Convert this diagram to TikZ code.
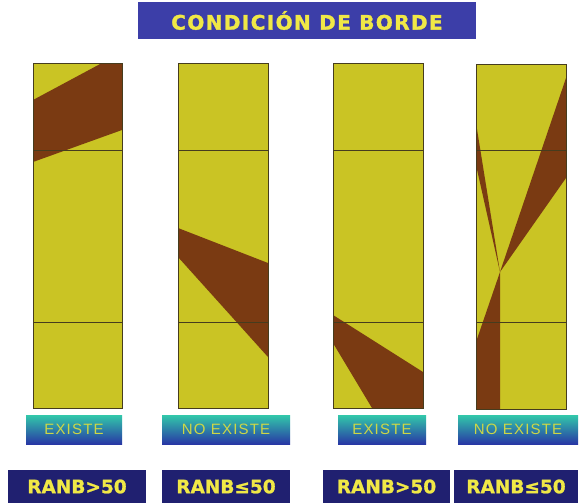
\documentclass[tikz,border=0pt]{standalone}
\usepackage{fontspec}
\setmainfont{DejaVu Sans}
\newfontfamily\titlefont[LetterSpace=7,FakeBold=1.5]{DejaVu Sans Bold}
\newfontfamily\bandfont[FakeBold=1.2]{DejaVu Sans Bold}
\newfontfamily\labfont[LetterSpace=8]{Liberation Sans}
\definecolor{olive}{RGB}{202,196,36}
\definecolor{rust}{RGB}{122,58,18}
\definecolor{edge}{RGB}{70,60,30}
\definecolor{titleblue}{RGB}{60,62,168}
\definecolor{navy}{RGB}{32,32,112}
\definecolor{ytext}{RGB}{240,232,70}
\definecolor{gtext}{RGB}{205,215,70}
\definecolor{teal}{RGB}{50,200,170}
\definecolor{gblue}{RGB}{40,55,165}
\begin{document}
\begin{tikzpicture}[x=1pt,y=-1pt,
  titlebox/.style={fill=titleblue, text=ytext, minimum width=338pt, minimum height=37pt, inner sep=0pt, font=\titlefont\fontsize{20}{20}\selectfont},
  statebox/.style={top color=teal, bottom color=gblue, draw=none, text=gtext, minimum height=29pt, inner sep=0pt, font=\labfont\fontsize{15}{15}\selectfont},
  condbox/.style={fill=navy, text=ytext, minimum height=33pt, inner sep=0pt, font=\bandfont\fontsize{18.5}{18.5}\selectfont},
  colfill/.style={fill=olive},
  band/.style={fill=rust},
  rule/.style={draw=edge, line width=0.9pt}]
\useasboundingbox (0,0) rectangle (582,504);
\fill[white] (0,0) rectangle (582,504);

\node[titlebox] (title) at (307,20.5) {CONDICIÓN DE BORDE};

% column 1
\fill[colfill] (33,63) rectangle (122,408);
\fill[band] (33,100) -- (102,63) -- (122,63) -- (122,130) -- (33,162) -- cycle;
% column 2
\fill[colfill] (178,63) rectangle (268,408);
\fill[band] (178,228) -- (268,263) -- (268,357) -- (178,257) -- cycle;
% column 3
\fill[colfill] (333,63) rectangle (423,408);
\fill[band] (333,315) -- (423,372) -- (423,408) -- (372,408) -- (333,343) -- cycle;
% column 4
\fill[colfill] (476,64) rectangle (566,409);
\fill[band] (476,123) -- (500,272) -- (476,165) -- cycle;
\fill[band] (566,78) -- (500,272) -- (566,178) -- cycle;
\fill[band] (500,272) -- (500,409) -- (476,409) -- (476,342) -- cycle;

\foreach \xa/\xb/\yt/\yb in {33/122/63/408, 178/268/63/408, 333/423/63/408, 476/566/64/409}{
  \draw[rule] (\xa,150) -- (\xb,150);
  \draw[rule] (\xa,322) -- (\xb,322);
  \draw[rule] (\xa,\yt) rectangle (\xb,\yb);
}

\node[statebox, minimum width=96pt] (s1) at (74,429.5) {EXISTE};
\node[statebox, minimum width=128pt] (s2) at (226,429.5) {NO EXISTE};
\node[statebox, minimum width=88pt] (s3) at (382,429.5) {EXISTE};
\node[statebox, minimum width=120pt] (s4) at (518,429.5) {NO EXISTE};

\node[condbox, minimum width=138pt] (c1) at (77,486.5) {RANB>50};
\node[condbox, minimum width=128pt] (c2) at (226,486.5) {RANB≤50};
\node[condbox, minimum width=127pt] (c3) at (386.5,486.5) {RANB>50};
\node[condbox, minimum width=124pt] (c4) at (516,486.5) {RANB≤50};
\end{tikzpicture}
\end{document}
